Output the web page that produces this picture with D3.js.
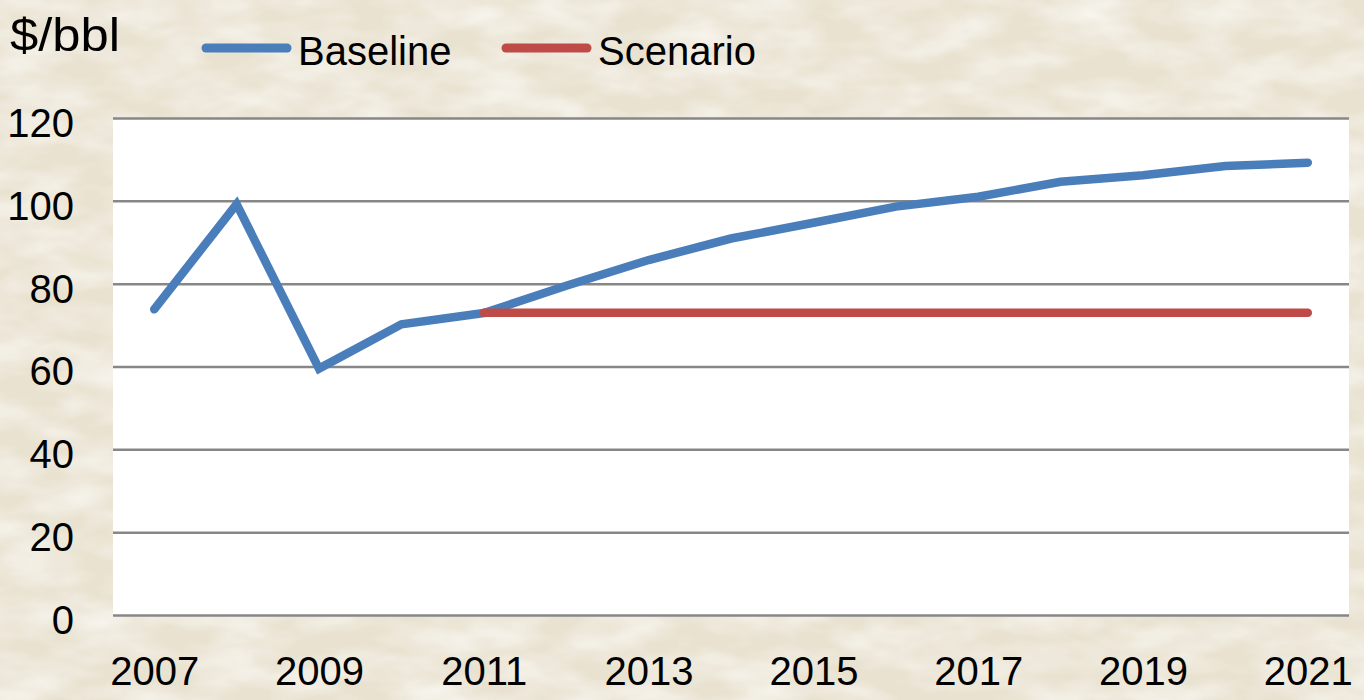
<!DOCTYPE html>
<html>
<head>
<meta charset="utf-8">
<script src="https://cdn.jsdelivr.net/npm/d3@7"></script>
<style>
  html, body { margin: 0; padding: 0; background: #eee9dc; }
  svg { display: block; }
  text { font-family: "Liberation Sans", Arial, sans-serif; fill: #000; }
</style>
</head>
<body>
<div id="chart"></div>
<script>
// data
let years = [2007, 2008, 2009, 2010, 2011, 2012, 2013, 2014, 2015, 2016, 2017, 2018, 2019, 2020, 2021];
let baseline = [73.8, 99.2, 59.5, 70.2, 72.9, 79.5, 85.7, 90.9, 94.7, 98.6, 101.0, 104.6, 106.2, 108.4, 109.2];
let scenarioYears = [2011, 2012, 2013, 2014, 2015, 2016, 2017, 2018, 2019, 2020, 2021];
let scenario = [73, 73, 73, 73, 73, 73, 73, 73, 73, 73, 73];
let yTicks = [0, 20, 40, 60, 80, 100, 120];
let xTickLabels = [2007, 2009, 2011, 2013, 2015, 2017, 2019, 2021];
let seriesNames = ["Baseline", "Scenario"];
let seriesColors = ["#4a7ebb", "#be4b48"];

let width = 1364, height = 700;
let plotLeft = 113, plotRight = 1349, plotTop = 118, plotBottom = 615;

let svg = d3.select("#chart").append("svg")
    .attr("width", width)
    .attr("height", height);

// rice-ish texture behind everything
let defs = svg.append("defs");
let f = defs.append("filter").attr("id", "rice")
    .attr("x", 0).attr("y", 0).attr("width", "100%").attr("height", "100%");
f.append("feTurbulence")
    .attr("type", "fractalNoise")
    .attr("baseFrequency", "0.015 0.035")
    .attr("numOctaves", 3)
    .attr("seed", 7);
f.append("feColorMatrix")
    .attr("type", "matrix")
    .attr("values", "0 0 0 0 0.97  0 0 0 0 0.96  0 0 0 0 0.93  1.5 0 0 0 -0.5");

svg.append("rect")
    .attr("width", width).attr("height", height)
    .attr("fill", "#e9e2d1");
svg.append("rect")
    .attr("width", width).attr("height", height)
    .attr("filter", "url(#rice)")
    .attr("opacity", 0.9);

// plot area
svg.append("rect")
    .attr("x", plotLeft).attr("y", plotTop)
    .attr("width", plotRight - plotLeft).attr("height", plotBottom - plotTop)
    .attr("fill", "#fff");

let x = d3.scalePoint()
    .domain(years)
    .range([plotLeft, plotRight])
    .padding(0.5);

let y = d3.scaleLinear()
    .domain([0, 120])
    .range([plotBottom, plotTop]);

// gridlines + y labels
let yAxis = svg.append("g")
    .attr("transform", `translate(${plotLeft},0)`)
    .call(d3.axisLeft(y)
        .tickValues(yTicks)
        .tickSizeInner(-(plotRight - plotLeft))
        .tickSizeOuter(0)
        .tickPadding(39));
yAxis.select(".domain").remove();
yAxis.selectAll(".tick line")
    .attr("stroke", "#878787")
    .attr("stroke-width", 2.5);
yAxis.selectAll(".tick text")
    .attr("font-size", 40)
    .attr("font-family", "'Liberation Sans', Arial, sans-serif")
    .attr("fill", "#000")
    .attr("dy", "0.46em");

// x labels
let xAxis = svg.append("g")
    .attr("transform", `translate(0,${plotBottom})`)
    .call(d3.axisBottom(x)
        .tickValues(xTickLabels)
        .tickSize(0)
        .tickPadding(42));
xAxis.select(".domain").remove();
xAxis.selectAll(".tick text")
    .attr("font-size", 40)
    .attr("font-family", "'Liberation Sans', Arial, sans-serif")
    .attr("fill", "#000");

// lines
let line = d3.line()
    .x(d => x(d[0]))
    .y(d => y(d[1]));

svg.append("path")
    .datum(years.map((yr, i) => [yr, baseline[i]]))
    .attr("d", line)
    .attr("fill", "none")
    .attr("stroke", seriesColors[0])
    .attr("stroke-width", 8.5)
    .attr("stroke-linecap", "round")
    .attr("stroke-linejoin", "miter");

svg.append("path")
    .datum(scenarioYears.map((yr, i) => [yr, scenario[i]]))
    .attr("d", line)
    .attr("fill", "none")
    .attr("stroke", seriesColors[1])
    .attr("stroke-width", 8.5)
    .attr("stroke-linecap", "round");

// unit label
svg.append("text")
    .attr("x", 10).attr("y", 51)
    .attr("font-size", 46)
    .attr("textLength", 110)
    .attr("lengthAdjust", "spacingAndGlyphs")
    .text("$/bbl");

// legend
let legendX = [202, 502];
let legend = svg.selectAll(".legend")
    .data(seriesNames)
    .enter().append("g")
    .attr("class", "legend")
    .attr("transform", (d, i) => `translate(${legendX[i]},0)`);
legend.append("line")
    .attr("x1", 4).attr("x2", 85)
    .attr("y1", 48).attr("y2", 48)
    .attr("stroke", (d, i) => seriesColors[i])
    .attr("stroke-width", 9)
    .attr("stroke-linecap", "round");
legend.append("text")
    .attr("x", 96).attr("y", 65)
    .attr("font-size", 40)
    .text(d => d);
</script>
</body>
</html>
